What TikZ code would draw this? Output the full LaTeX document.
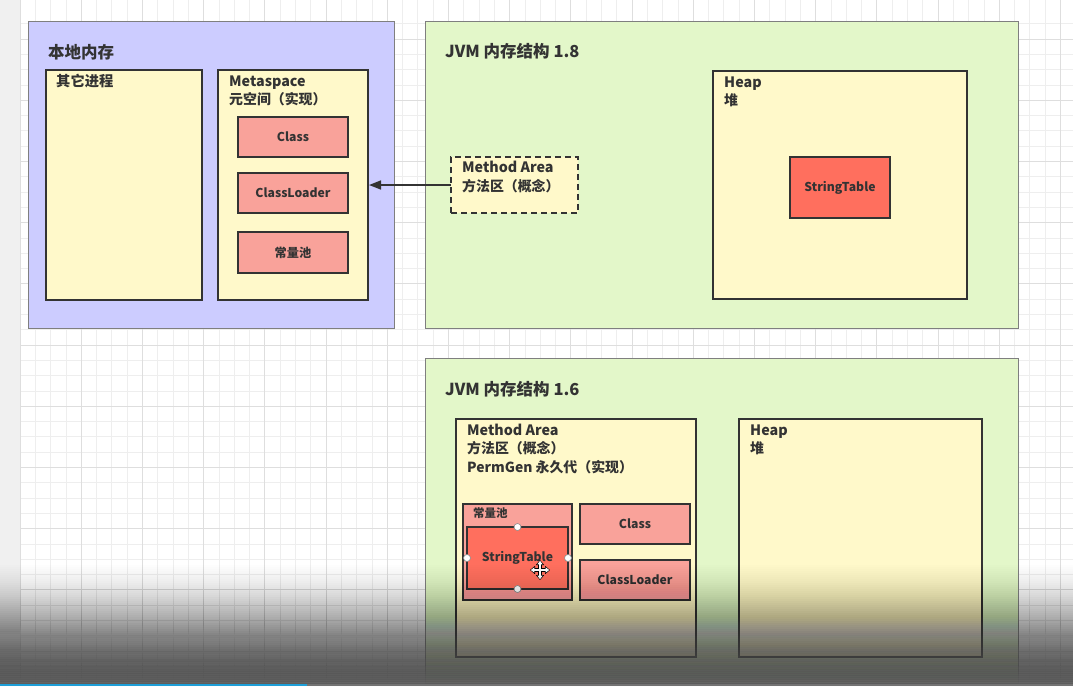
\documentclass[tikz,border=0pt]{standalone}
\usepackage{fontspec}
\setmainfont{Noto Sans CJK SC}
\usetikzlibrary{arrows.meta}

\definecolor{ink}{HTML}{333333}
\definecolor{lavender}{HTML}{CCCCFF}
\definecolor{mint}{HTML}{E3F7C9}
\definecolor{cream}{HTML}{FFF9CA}
\definecolor{salmon}{HTML}{F9A29A}
\definecolor{tomato}{HTML}{FF6F5E}
\definecolor{gridminor}{HTML}{EEEEEE}
\definecolor{gridmajor}{HTML}{DEDEDE}
\definecolor{rim}{HTML}{7F7F7F}
\definecolor{shade}{HTML}{202020}
\definecolor{barblue}{HTML}{1E9FD8}

\tikzset{
  region/.style={draw=rim, line width=0.9pt, anchor=north west, inner sep=0pt, outer sep=0pt},
  panel/.style={draw=ink, line width=1.6pt, fill=cream, anchor=north west, inner sep=0pt, outer sep=0pt},
  cell/.style={draw=ink, line width=1.6pt, fill=salmon, anchor=center, inner sep=0pt, outer sep=0pt,
               font=\fontsize{12.2}{13}\selectfont\bfseries, text=ink},
  hot/.style={cell, fill=tomato},
  title/.style={anchor=base west, inner sep=0pt, text=ink, font=\fontsize{16.5}{18}\selectfont\bfseries},
  label/.style={anchor=base west, inner sep=0pt, text=ink, font=\fontsize{14.3}{16}\selectfont\bfseries},
  sublabel/.style={anchor=base west, inner sep=0pt, text=ink, font=\fontsize{13.9}{16}\selectfont\bfseries},
  handle/.style={circle, draw=black!45, fill=white, line width=0.6pt, minimum size=7pt, inner sep=0pt},
  moveout/.style={black, line width=3.4pt, {Triangle[length=5pt,width=8pt]}-{Triangle[length=5pt,width=8pt]}},
  movein/.style={white, line width=1.4pt, {Triangle[length=3.5pt,width=5pt]}-{Triangle[length=3.5pt,width=5pt]}},
}

\begin{document}
\begin{tikzpicture}[x=1pt, y=-1pt]
  % canvas with grid
  \useasboundingbox (0,0) rectangle (1073,686);
  \fill[white] (0,0) rectangle (1073,686);
  \fill[black!6] (0,0) rectangle (20,686);
  \foreach \i in {0,...,69} {
    \draw[gridminor, line width=0.8pt] ({20+\i*15.3},0) -- ({20+\i*15.3},686);
  }
  \foreach \j in {-1,...,44} {
    \draw[gridminor, line width=0.8pt] (20,{39+\j*15.3}) -- (1073,{39+\j*15.3});
  }
  \foreach \i in {0,...,17} {
    \draw[gridmajor, line width=0.8pt] ({20+\i*61.2},0) -- ({20+\i*61.2},686);
  }
  \foreach \j in {0,...,11} {
    \draw[gridmajor, line width=0.8pt] (20,{39+\j*61.2}) -- (1073,{39+\j*61.2});
  }

  % native memory
  \node[region, fill=lavender, minimum width=366pt, minimum height=307pt] (native) at (28,21) {};
  \node[title] (nativeT) at (48,58) {本地内存};
  \node[panel, minimum width=156pt, minimum height=230pt] (other) at (46,70) {};
  \node[label] (otherT) at (56,86) {其它进程};
  \node[panel, minimum width=150pt, minimum height=230pt] (meta) at (218,70) {};
  \node[label] (metaT) at (229,86) {Metaspace};
  \node[sublabel] (metaS) at (229,104.5) {元空间（实现）};
  \node[cell, minimum width=110pt, minimum height=40pt] (mclass) at (293,137) {Class};
  \node[cell, minimum width=110pt, minimum height=40pt] (mloader) at (293,193) {ClassLoader};
  \node[cell, minimum width=110pt, minimum height=41pt] (mpool) at (293,252.5) {常量池};

  % JVM 1.8
  \node[region, fill=mint, minimum width=593pt, minimum height=307pt] (jvm8) at (425,21) {};
  \node[title] (jvm8T) at (445,57) {JVM 内存结构 1.8};
  \node[panel, dash pattern=on 6pt off 4pt, minimum width=127pt, minimum height=56pt] (ma8) at (451,157) {};
  \node[label] (ma8T) at (462,172.5) {Method Area};
  \node[sublabel] (ma8S) at (462,191) {方法区（概念）};
  \node[panel, minimum width=254pt, minimum height=228pt] (heap8) at (713,71) {};
  \node[label] (heap8T) at (724,87) {Heap};
  \node[sublabel] (heap8S) at (724,105) {堆};
  \node[hot, minimum width=100pt, minimum height=61pt] (st8) at (840,187.5) {StringTable};

  \draw[ink, line width=1.5pt, -{Triangle[length=12pt, width=9pt]}, shorten >=1pt] (ma8.west) -- (ma8.west -| meta.east);

  % JVM 1.6
  \node[region, fill=mint, minimum width=593pt, minimum height=325pt] (jvm6) at (425,358) {};
  \node[title] (jvm6T) at (445,395) {JVM 内存结构 1.6};
  \node[panel, minimum width=240pt, minimum height=238pt] (ma6) at (456,419) {};
  \node[label] (ma6T) at (467,435) {Method Area};
  \node[sublabel] (ma6S) at (467,453.5) {方法区（概念）};
  \node[sublabel] (ma6P) at (467,472) {PermGen 永久代（实现）};
  \node[cell, minimum width=109pt, minimum height=96pt] (pool6) at (517.5,552) {};
  \node[anchor=base west, inner sep=0pt, text=ink, font=\fontsize{11.5}{12}\selectfont\bfseries] (pool6T) at (473,517) {常量池};
  \node[hot, minimum width=101pt, minimum height=62pt] (st6) at (517.5,558) {StringTable};
  \node[cell, minimum width=110pt, minimum height=40pt] (class6) at (635,524) {Class};
  \node[cell, minimum width=110pt, minimum height=40pt] (loader6) at (635,580) {ClassLoader};
  \node[panel, minimum width=243pt, minimum height=238pt] (heap6) at (739,419) {};
  \node[label] (heap6T) at (750,435) {Heap};
  \node[sublabel] (heap6S) at (750,453.5) {堆};

  % selection handles on the StringTable cell
  \node[handle] (hN) at (st6.north) {};
  \node[handle] (hS) at (st6.south) {};
  \node[handle] (hW) at (st6.west) {};
  \node[handle] (hE) at (st6.east) {};

  % move pointer
  \coordinate (mvL) at (530,570);
  \coordinate (mvR) at (550,570);
  \coordinate (mvU) at (540,560);
  \coordinate (mvD) at (540,580);
  \draw[moveout] (mvL) -- (mvR);
  \draw[moveout] (mvU) -- (mvD);
  \draw[movein, shorten <=0.8pt, shorten >=0.8pt] (mvL) -- (mvR);
  \draw[movein, shorten <=0.8pt, shorten >=0.8pt] (mvU) -- (mvD);

  % darkening toward the bottom edge: nested bands, each reaching the bottom,
  % so the total opacity grows as 0.92*t^2
  \foreach \k in {0,...,65} {
    \pgfmathsetmacro{\Aa}{0.92*((2*\k+1)/131)^2}
    \pgfmathsetmacro{\Ab}{0.92*(max(2*\k-1,0)/131)^2}
    \pgfmathsetmacro{\op}{1-(1-\Aa)/(1-\Ab)}
    \fill[shade, fill opacity=\op] (0,{555+\k*2}) rectangle (1073,686);
  }
  \fill[barblue] (0,684) rectangle (307,686);
  \fill[black!55] (307,684) rectangle (1073,686);
\end{tikzpicture}
\end{document}
